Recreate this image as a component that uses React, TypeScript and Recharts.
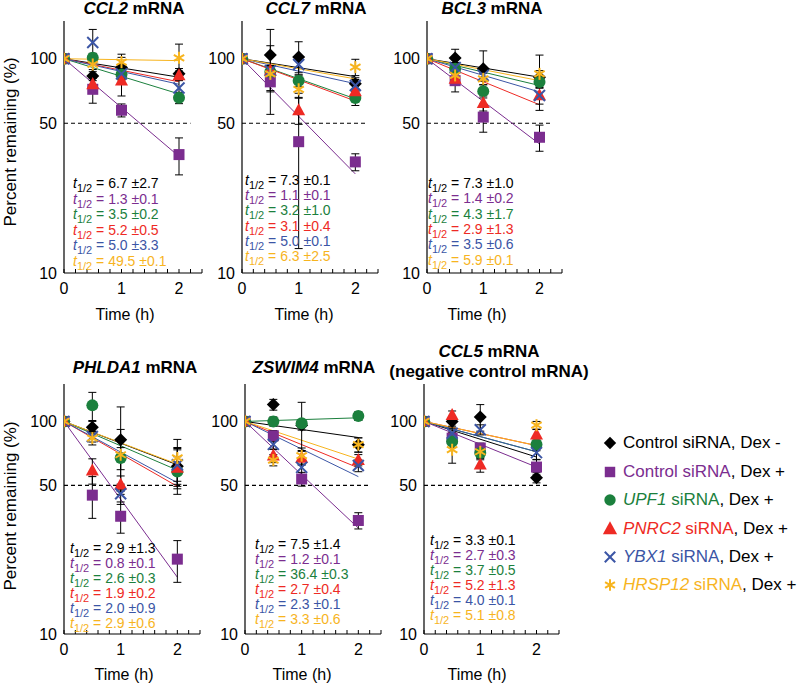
import React from 'react';
import { ComposedChart, Line, Scatter, XAxis, YAxis, ReferenceLine } from 'recharts';

const FONT = '"Liberation Sans", Arial, Helvetica, sans-serif';

// ---------- shared data ----------
const times = [0, 0.5, 1, 2];
const fitTimes = [0, 2];
const xTicks = [0, 0.2, 0.4, 0.6, 0.8, 1, 1.2, 1.4, 1.6, 1.8, 2, 2.2, 2.4];
const yTicks = [10, 50, 100];
const seriesColors = ['#000000', '#7b2d8f', '#1b803d', '#ee2a24', '#3b55a5', '#f7b41e'];
const seriesShapes = ['diamond', 'square', 'circle', 'triangle', 'cross', 'star'];
const legendGenes = ['', '', 'UPF1', 'PNRC2', 'YBX1', 'HRSP12'];
const legendMain = ['Control siRNA', 'Control siRNA', ' siRNA', ' siRNA', ' siRNA', ' siRNA'];
const legendTail = [', Dex -', ', Dex +', ', Dex +', ', Dex +', ', Dex +', ', Dex +'];

// ---------- CCL2 ----------
const ccl2Means = [
  [100, 83, 91, 85],
  [100, 72, 57.5, 35.7],
  [100, 101, 84.5, 65.7],
  [100, 76, 79, 83.6],
  [100, 119, 85, 73],
  [100, 94, 96.5, 101],
];
const ccl2Errors = [
  [0, 4, 14, 5],
  [0, 10, 4, 7],
  [0, 5, 5, 4],
  [0, 5, 12, 4],
  [0, 18, 5, 6],
  [0, 5, 5, 16],
];
const ccl2FitEnd = [82, 35, 68.5, 78, 76, 98];
const ccl2HalfLives = ['6.7 ±2.7', '1.3 ±0.1', '3.5 ±0.2', '5.2 ±0.5', '5.0 ±3.3', '49.5 ±0.1'];

// ---------- CCL7 ----------
const ccl7Means = [
  [100, 104, 102, 76.5],
  [100, 78, 41, 33],
  [100, 87, 79, 65.5],
  [100, 88, 57.4, 70.4],
  [100, 88, 94, 75],
  [100, 85, 72, 91.4],
];
const ccl7Errors = [
  [0, 33, 18, 5],
  [0, 8, 28, 3],
  [0, 5, 5, 5],
  [0, 5, 8, 5],
  [0, 5, 8, 5],
  [0, 30, 6, 8],
];
const ccl7FitEnd = [82.5, 29, 65, 63.5, 76.5, 80.5];
const ccl7HalfLives = ['7.3 ±0.1', '1.1 ±0.1', '3.2 ±1.0', '3.1 ±0.4', '5.0 ±0.1', '6.3 ±2.5'];

// ---------- BCL3 ----------
const bcl3Means = [
  [100, 100.7, 89.8, 82],
  [100, 79, 53.4, 43],
  [100, 89.8, 70.6, 77.8],
  [100, 80.6, 62, 67.4],
  [100, 91, 83.6, 67.4],
  [100, 83.6, 80.6, 85],
];
const bcl3Errors = [
  [0, 10, 19, 6],
  [0, 9, 8, 6],
  [0, 5, 5, 5],
  [0, 5, 5, 10],
  [0, 5, 5, 6],
  [0, 5, 5, 19],
];
const bcl3FitEnd = [82, 40, 75, 61, 70, 79];
const bcl3HalfLives = ['7.3 ±1.0', '1.4 ±0.2', '4.3 ±1.7', '2.9 ±1.3', '3.5 ±0.6', '5.9 ±0.1'];

// ---------- PHLDA1 ----------
const phlda1Means = [
  [100, 94, 82, 61.5],
  [100, 45, 35.8, 22.5],
  [100, 119, 67.3, 58.2],
  [100, 58.7, 50.4, 60.4],
  [100, 85, 45.7, 62.6],
  [100, 83.5, 69.7, 67.3],
];
const phlda1Errors = [
  [0, 6, 35, 12],
  [0, 10, 6, 5],
  [0, 18, 8, 10],
  [0, 8, 5, 15],
  [0, 5, 5, 12],
  [0, 6, 22, 15],
];
const phlda1FitEnd = [62.5, 18.5, 59, 49.5, 51.5, 63];
const phlda1HalfLives = ['2.9 ±1.3', '0.8 ±0.1', '2.6 ±0.3', '1.9 ±0.2', '2.0 ±0.9', '2.9 ±0.6'];

// ---------- ZSWIM4 ----------
const zswim4Means = [
  [100, 120, 96, 77.7],
  [100, 85.6, 53.6, 34.2],
  [100, 100, 98, 106],
  [100, 69, 67.3, 65.8],
  [100, 78, 60.8, 62],
  [100, 65.8, 69, 77.7],
];
const zswim4Errors = [
  [0, 7, 5, 6],
  [0, 5, 4, 3],
  [0, 5, 25, 5],
  [0, 5, 5, 4],
  [0, 4, 5, 4],
  [0, 4, 6, 6],
];
const zswim4FitEnd = [84, 31.5, 104, 60.5, 55, 66.5];
const zswim4HalfLives = ['7.5 ±1.4', '1.2 ±0.1', '36.4 ±0.3', '2.7 ±0.4', '2.3 ±0.1', '3.3 ±0.6'];

// ---------- CCL5 ----------
const ccl5Means = [
  [100, 100, 105, 54.4],
  [100, 83.5, 75, 61],
  [100, 80.5, 71, 77.8],
  [100, 107, 62.7, 86.6],
  [100, 88, 91.4, 71.3],
  [100, 73.6, 72, 96],
];
const ccl5Errors = [
  [0, 5, 15, 3],
  [0, 5, 4, 5],
  [0, 5, 5, 5],
  [0, 5, 5, 5],
  [0, 5, 5, 5],
  [0, 10, 5, 4],
];
const ccl5FitEnd = [68, 61, 72, 77, 72, 77];
const ccl5HalfLives = ['3.3 ±0.1', '2.7 ±0.3', '3.7 ±0.5', '5.2 ±1.3', '4.0 ±0.1', '5.1 ±0.8'];

const panelGenes = ['CCL2', 'CCL7', 'BCL3', 'PHLDA1', 'ZSWIM4', 'CCL5'];
const panelMeans = [ccl2Means, ccl7Means, bcl3Means, phlda1Means, zswim4Means, ccl5Means];
const panelErrors = [ccl2Errors, ccl7Errors, bcl3Errors, phlda1Errors, zswim4Errors, ccl5Errors];
const panelFitEnds = [ccl2FitEnd, ccl7FitEnd, bcl3FitEnd, phlda1FitEnd, zswim4FitEnd, ccl5FitEnd];
const panelHalfLives = [ccl2HalfLives, ccl7HalfLives, bcl3HalfLives, phlda1HalfLives, zswim4HalfLives, ccl5HalfLives];

// ---------- layout (positions only) ----------
const layouts = [
  { axisX: 64, plotTop: 21, plotH: 252, plotW: 138, titleX: 134, titleY: 9, timeX: 125, timeY: 315, hlX: 73, hlY: 183, hlStep: 15.6 },
  { axisX: 242, plotTop: 21, plotH: 252, plotW: 136, titleX: 316, titleY: 9, timeX: 304, timeY: 315, hlX: 245, hlY: 180, hlStep: 15.2 },
  { axisX: 427, plotTop: 21, plotH: 252, plotW: 135, titleX: 492, titleY: 9, timeX: 477, timeY: 315, hlX: 428, hlY: 183, hlStep: 15.3 },
  { axisX: 64, plotTop: 384, plotH: 250, plotW: 136, titleX: 135, titleY: 368, timeX: 124, timeY: 675, hlX: 70, hlY: 548, hlStep: 15 },
  { axisX: 245, plotTop: 384, plotH: 250, plotW: 136, titleX: 314, titleY: 368, timeX: 302, timeY: 675, hlX: 255, hlY: 544, hlStep: 15 },
  { axisX: 424, plotTop: 384, plotH: 250, plotW: 135, titleX: 489, titleY: 352, timeX: 477, timeY: 675, hlX: 430, hlY: 540, hlStep: 15 },
];

function Marker({ kind, cx, cy, color, s = 1 }: any) {
  if (cx == null || cy == null) return <g />;
  switch (kind) {
    case 'diamond': {
      const d = 6.5 * s;
      return <polygon points={`${cx},${cy - d} ${cx + d},${cy} ${cx},${cy + d} ${cx - d},${cy}`} fill={color} />;
    }
    case 'square': {
      const h = 5.5 * s;
      return <rect x={cx - h} y={cy - h} width={2 * h} height={2 * h} fill={color} />;
    }
    case 'circle':
      return <circle cx={cx} cy={cy} r={6 * s} fill={color} />;
    case 'triangle': {
      const a = 6.5 * s;
      return <polygon points={`${cx},${cy - a * 1.1} ${cx + a},${cy + a * 0.75} ${cx - a},${cy + a * 0.75}`} fill={color} />;
    }
    case 'cross': {
      const c = 5.5 * s;
      return (
        <g stroke={color} strokeWidth={2}>
          <line x1={cx - c} y1={cy - c} x2={cx + c} y2={cy + c} />
          <line x1={cx - c} y1={cy + c} x2={cx + c} y2={cy - c} />
        </g>
      );
    }
    default: {
      const r = 6 * s;
      const lines = [90, 30, 150].map((deg) => {
        const rad = (deg * Math.PI) / 180;
        const dx = r * Math.cos(rad);
        const dy = r * Math.sin(rad);
        return <line key={deg} x1={cx - dx} y1={cy - dy} x2={cx + dx} y2={cy + dy} />;
      });
      return <g stroke={color} strokeWidth={2}>{lines}</g>;
    }
  }
}

const XTick = (props: any) => {
  const { x, y, payload } = props;
  const v = payload.value;
  const major = Math.abs(v - Math.round(v)) < 1e-6;
  return (
    <g>
      <line x1={x} x2={x} y1={y} y2={y - 4} stroke="#000" strokeWidth={1} />
      {major && (
        <text x={x} y={y + 15} textAnchor="middle" dominantBaseline="central" fontSize={16} fontFamily={FONT} fill="#000">
          {Math.round(v)}
        </text>
      )}
    </g>
  );
};

// cap of an error bar (drawn at each end point of the bar)
const CapShape = (p: any) =>
  p.cx == null || p.cy == null ? <g /> : <line x1={p.cx - 4} x2={p.cx + 4} y1={p.cy} y2={p.cy} stroke="#000" strokeWidth={1} />;

function Panel({ idx }: { idx: number }) {
  const L = layouts[idx];
  const means = panelMeans[idx];
  const errors = panelErrors[idx];
  const fitEnd = panelFitEnds[idx];
  const ML = 50, MT = 5, MR = 10, XH = 26, MB = 4;
  const width = ML + L.plotW + MR;
  const height = MT + L.plotH + XH + MB;

  const errorBars: any[] = [];
  means.forEach((row, s) => {
    times.forEach((t, k) => {
      const e = errors[s][k];
      if (e > 0) {
        errorBars.push(
          <Scatter
            key={`eb-${s}-${k}`}
            data={[{ t, v: row[k] - e }, { t, v: row[k] + e }]}
            line={{ stroke: '#000', strokeWidth: 1 }}
            lineType="joint"
            shape={CapShape}
            fill="#000"
            isAnimationActive={false}
          />
        );
      }
    });
  });

  return (
    <div style={{ position: 'absolute', left: L.axisX - ML, top: L.plotTop - MT }}>
      <ComposedChart width={width} height={height} margin={{ top: MT, right: MR, bottom: MB, left: 0 }}>
        <XAxis
          type="number"
          dataKey="t"
          domain={[0, 2.4]}
          ticks={xTicks}
          interval={0}
          allowDataOverflow
          tick={<XTick />}
          tickLine={false}
          tickSize={0}
          tickMargin={0}
          height={XH}
          axisLine={{ stroke: '#000', strokeWidth: 1.2 }}
        />
        <YAxis
          type="number"
          dataKey="v"
          scale="log"
          domain={[10, 150]}
          ticks={yTicks}
          interval={0}
          allowDataOverflow
          width={ML}
          tickLine={false}
          tickSize={4}
          tickMargin={3}
          axisLine={{ stroke: '#000', strokeWidth: 1.2 }}
          tick={{ fill: '#000', fontSize: 16, fontFamily: FONT }}
        />
        <ReferenceLine
          segment={[{ x: 0, y: 50 }, { x: 2.2, y: 50 }]}
          stroke="#000"
          strokeWidth={1.2}
          strokeDasharray="4 3"
          ifOverflow="visible"
        />
        {errorBars}
        {means.map((_, s) => (
          <Line
            key={'fit' + s}
            data={fitTimes.map((t, k) => ({ t, v: k === 0 ? 100 : fitEnd[s] }))}
            dataKey="v"
            type="linear"
            stroke={seriesColors[s]}
            strokeWidth={1}
            dot={false}
            activeDot={false}
            isAnimationActive={false}
          />
        ))}
        {means.map((row, s) => (
          <Scatter
            key={'pts' + s}
            data={times.map((t, k) => ({ t, v: row[k] }))}
            fill={seriesColors[s]}
            isAnimationActive={false}
            shape={(p: any) => <Marker kind={seriesShapes[s]} cx={p.cx} cy={p.cy} color={seriesColors[s]} />}
          />
        ))}
      </ComposedChart>
    </div>
  );
}

function Title({ idx }: { idx: number }) {
  const L = layouts[idx];
  const common: any = {
    position: 'absolute',
    left: L.titleX - 120,
    width: 240,
    textAlign: 'center',
    fontSize: 17,
    fontWeight: 'bold',
    lineHeight: '20px',
    whiteSpace: 'nowrap',
  };
  return (
    <>
      <div style={{ ...common, top: L.titleY - 10 }}>
        <i>{panelGenes[idx]}</i> mRNA
      </div>
      {idx === 5 && <div style={{ ...common, top: L.titleY + 10 }}>(negative control mRNA)</div>}
    </>
  );
}

function HalfLives({ idx }: { idx: number }) {
  const L = layouts[idx];
  return (
    <>
      {panelHalfLives[idx].map((hl, s) => (
        <div
          key={s}
          style={{
            position: 'absolute',
            left: L.hlX,
            top: L.hlY + s * L.hlStep - 9,
            height: 18,
            lineHeight: '18px',
            fontSize: 14,
            color: seriesColors[s],
            whiteSpace: 'nowrap',
          }}
        >
          <i>t</i>
          <span style={{ fontSize: 11, position: 'relative', top: 4 }}>1/2</span> = {hl}
        </div>
      ))}
    </>
  );
}

function Legend() {
  const rowsY = [443, 471.5, 500, 528.5, 557, 585];
  return (
    <>
      {seriesColors.map((c, s) => (
        <div key={s} style={{ position: 'absolute', left: 600, top: rowsY[s] - 11, height: 22, lineHeight: '22px', fontSize: 17, whiteSpace: 'nowrap' }}>
          <svg width={20} height={22} style={{ position: 'absolute', left: 0, top: 0 }}>
            <Marker kind={seriesShapes[s]} cx={10} cy={11} color={c} s={s === 3 ? 1.1 : 0.95} />
          </svg>
          <span style={{ position: 'absolute', left: 23, top: 0 }}>
            {legendGenes[s] && <i style={{ color: c }}>{legendGenes[s]}</i>}
            <span style={{ color: s === 0 ? '#000' : c }}>{legendMain[s]}</span>
            <span style={{ color: '#000' }}>{legendTail[s]}</span>
          </span>
        </div>
      ))}
    </>
  );
}

export default function App() {
  const ylab: any = {
    position: 'absolute',
    width: 240,
    textAlign: 'center',
    fontSize: 17,
    lineHeight: '20px',
    transform: 'rotate(-90deg)',
    whiteSpace: 'nowrap',
  };
  const timeLab: any = { position: 'absolute', width: 100, textAlign: 'center', fontSize: 16, lineHeight: '20px' };
  return (
    <div
      style={{
        position: 'absolute',
        left: 0,
        top: 0,
        width: 800,
        height: 687,
        background: '#fff',
        fontFamily: FONT,
        color: '#000',
        overflow: 'hidden',
      }}
    >
      {layouts.map((_, i) => (
        <Panel key={'p' + i} idx={i} />
      ))}
      {layouts.map((_, i) => (
        <Title key={'t' + i} idx={i} />
      ))}
      {layouts.map((_, i) => (
        <HalfLives key={'h' + i} idx={i} />
      ))}
      {layouts.map((L, i) => (
        <div key={'x' + i} style={{ ...timeLab, left: L.timeX - 50, top: L.timeY - 10 }}>
          Time (h)
        </div>
      ))}
      <div style={{ ...ylab, left: 11 - 120, top: 142 - 10 }}>Percent remaining (%)</div>
      <div style={{ ...ylab, left: 11 - 120, top: 506 - 10 }}>Percent remaining (%)</div>
      <Legend />
    </div>
  );
}
